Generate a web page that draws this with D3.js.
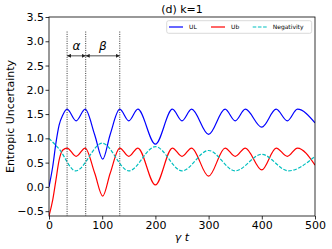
<!DOCTYPE html>
<html>
<head>
<meta charset="utf-8">
<script src="https://cdn.jsdelivr.net/npm/d3@7"></script>
<style>
  body { margin: 0; background: #fff; }
  svg { font-family: "DejaVu Sans", sans-serif; }
</style>
</head>
<body>
<div class="svg-container"></div>
<script>
// values
const tU = [0, 7, 13, 19, 26, 34, 51, 68, 86, 101, 115, 133, 150, 167, 200, 232, 250, 268, 300, 331, 350, 369, 400, 427, 448, 467, 500];
const ulValues = [0, 0.42, 0.90, 1.27, 1.48, 1.60, 1.36, 1.60, 1.07, 0.57, 1.08, 1.60, 1.36, 1.60, 0.88, 1.60, 1.36, 1.60, 1.08, 1.60, 1.36, 1.60, 1.23, 1.60, 1.36, 1.60, 1.32];
const ubValues = [-0.60, -0.27, 0.14, 0.55, 0.76, 0.80, 0.63, 0.80, 0.28, -0.19, 0.28, 0.80, 0.63, 0.80, 0.04, 0.80, 0.63, 0.80, 0.22, 0.80, 0.63, 0.80, 0.35, 0.80, 0.63, 0.80, 0.45];
const tN = [0, 19, 50, 100, 150, 200, 250, 300, 350, 400, 450, 500];
const negValues = [1.00, 0.78, 0.33, 0.90, 0.33, 0.83, 0.33, 0.75, 0.33, 0.67, 0.33, 0.63];
const xTicks = [0, 100, 200, 300, 400, 500];
const yTicks = [-0.5, 0, 0.5, 1, 1.5, 2, 2.5, 3, 3.5];
const markerTimes = [34, 69, 133];
const intervals = [{ from: 34, to: 69, label: 'α' }, { from: 69, to: 133, label: 'β' }];

const W = 332, H = 249;
const margin = { top: 17, right: 17, bottom: 33, left: 49 };
const width = W - margin.left - margin.right;
const height = H - margin.top - margin.bottom;

const svg = d3.select('.svg-container')
  .append('svg')
  .attr('width', W)
  .attr('height', H);

const g = svg.append('g').attr('transform', `translate(${margin.left},${margin.top})`);

const x = d3.scaleLinear().domain([0, 500]).range([0, width]);
const y = d3.scaleLinear().domain([-0.6, 3.5]).range([height, 0]);

// axes
const fmt = (d) => d3.format('.1f')(d).replace('-', '\u2212');
const xAxis = g.append('g')
  .attr('transform', `translate(0,${height})`)
  .call(d3.axisBottom(x).tickValues(xTicks).tickSize(3.5).tickPadding(1.8).tickFormat(d3.format('d')));
const yAxis = g.append('g')
  .call(d3.axisLeft(y).tickValues(yTicks).tickSize(3.5).tickPadding(1.5).tickFormat(fmt));
[xAxis, yAxis].forEach((a) => {
  a.select('.domain').remove();
  a.selectAll('line').attr('stroke', '#000').attr('stroke-width', 0.8);
  a.selectAll('text').attr('fill', '#000').style('font-size', '11px').style('font-family', '"DejaVu Sans", sans-serif');
});

// clip for the curves
g.append('clipPath').attr('id', 'clip')
  .append('rect').attr('width', width).attr('height', height);
const plot = g.append('g').attr('clip-path', 'url(#clip)');

const line = d3.line()
  .x((d) => x(d[0]))
  .y((d) => y(d[1]))
  .curve(d3.curveMonotoneX);

plot.append('path')
  .datum(tU.map((t, i) => [t, ulValues[i]]))
  .attr('d', line)
  .attr('fill', 'none')
  .attr('stroke', '#0000ff')
  .attr('stroke-width', 1.2);

plot.append('path')
  .datum(tU.map((t, i) => [t, ubValues[i]]))
  .attr('d', line)
  .attr('fill', 'none')
  .attr('stroke', '#ff0000')
  .attr('stroke-width', 1.2);

plot.append('path')
  .datum(tN.map((t, i) => [t, negValues[i]]))
  .attr('d', line)
  .attr('fill', 'none')
  .attr('stroke', '#00bfbf')
  .attr('stroke-width', 1.2)
  .attr('stroke-dasharray', '3.6,1.6');

// dotted marker lines
plot.selectAll('.vline')
  .data(markerTimes)
  .enter()
  .append('line')
  .attr('class', 'vline')
  .attr('x1', (d) => x(d))
  .attr('x2', (d) => x(d))
  .attr('y1', y(3.2))
  .attr('y2', height)
  .attr('stroke', '#000')
  .attr('stroke-width', 0.8)
  .attr('stroke-dasharray', '1,1.3');

// double arrows with greek labels
const defs = svg.append('defs');
['start', 'end'].forEach((k) => {
  defs.append('marker')
    .attr('id', 'arr-' + k)
    .attr('viewBox', '0 0 10 10')
    .attr('refX', k === 'end' ? 10 : 0)
    .attr('refY', 5)
    .attr('markerWidth', 4)
    .attr('markerHeight', 4)
    .attr('markerUnits', 'userSpaceOnUse')
    .attr('orient', 'auto')
    .append('path')
    .attr('d', k === 'end' ? 'M0,0L10,5L0,10Z' : 'M10,0L0,5L10,10Z')
    .attr('fill', '#222');
});
intervals.forEach((iv) => {
  g.append('line')
    .attr('x1', x(iv.from))
    .attr('x2', x(iv.to))
    .attr('y1', y(2.7))
    .attr('y2', y(2.7))
    .attr('stroke', '#222')
    .attr('stroke-width', 0.8)
    .attr('marker-start', 'url(#arr-start)')
    .attr('marker-end', 'url(#arr-end)');
  g.append('text')
    .attr('x', x((iv.from + iv.to) / 2))
    .attr('y', y(2.83))
    .attr('text-anchor', 'middle')
    .style('font-size', '12px')
    .style('font-style', 'italic')
    .text(iv.label);
});

// frame
g.append('rect')
  .attr('width', width)
  .attr('height', height)
  .attr('fill', 'none')
  .attr('stroke', '#000')
  .attr('stroke-width', 0.8);

// legend
const legend = g.append('g').attr('transform', 'translate(117.7,3.7)');
legend.append('rect')
  .attr('width', 145)
  .attr('height', 12.6)
  .attr('rx', 2)
  .attr('fill', '#fff')
  .attr('fill-opacity', 0.8)
  .attr('stroke', '#d0d0d0')
  .attr('stroke-width', 0.8);
const items = [
  { name: 'UL', color: '#0000ff', dash: null, x0: 2.3 },
  { name: 'Ub', color: '#ff0000', dash: null, x0: 44.3 },
  { name: 'Negativity', color: '#00bfbf', dash: '3.6,1.6', x0: 86 }
];
items.forEach((it) => {
  legend.append('line')
    .attr('x1', it.x0)
    .attr('x2', it.x0 + 14)
    .attr('y1', 6.3)
    .attr('y2', 6.3)
    .attr('stroke', it.color)
    .attr('stroke-width', 1.2)
    .attr('stroke-dasharray', it.dash);
  legend.append('text')
    .attr('x', it.x0 + 20)
    .attr('y', 8.4)
    .style('font-size', '6px')
    .text(it.name);
});

// titles
svg.append('text')
  .attr('x', margin.left + width / 2)
  .attr('y', 13)
  .attr('text-anchor', 'middle')
  .style('font-size', '11px')
  .text('(d) k=1');

svg.append('text')
  .attr('transform', `translate(14,${margin.top + height / 2}) rotate(-90)`)
  .attr('text-anchor', 'middle')
  .style('font-size', '11px')
  .text('Entropic Uncertainty');

svg.append('text')
  .attr('x', margin.left + width / 2)
  .attr('y', 241)
  .attr('text-anchor', 'middle')
  .style('font-size', '11px')
  .style('font-style', 'italic')
  .text('γ t');
</script>
</body>
</html>
